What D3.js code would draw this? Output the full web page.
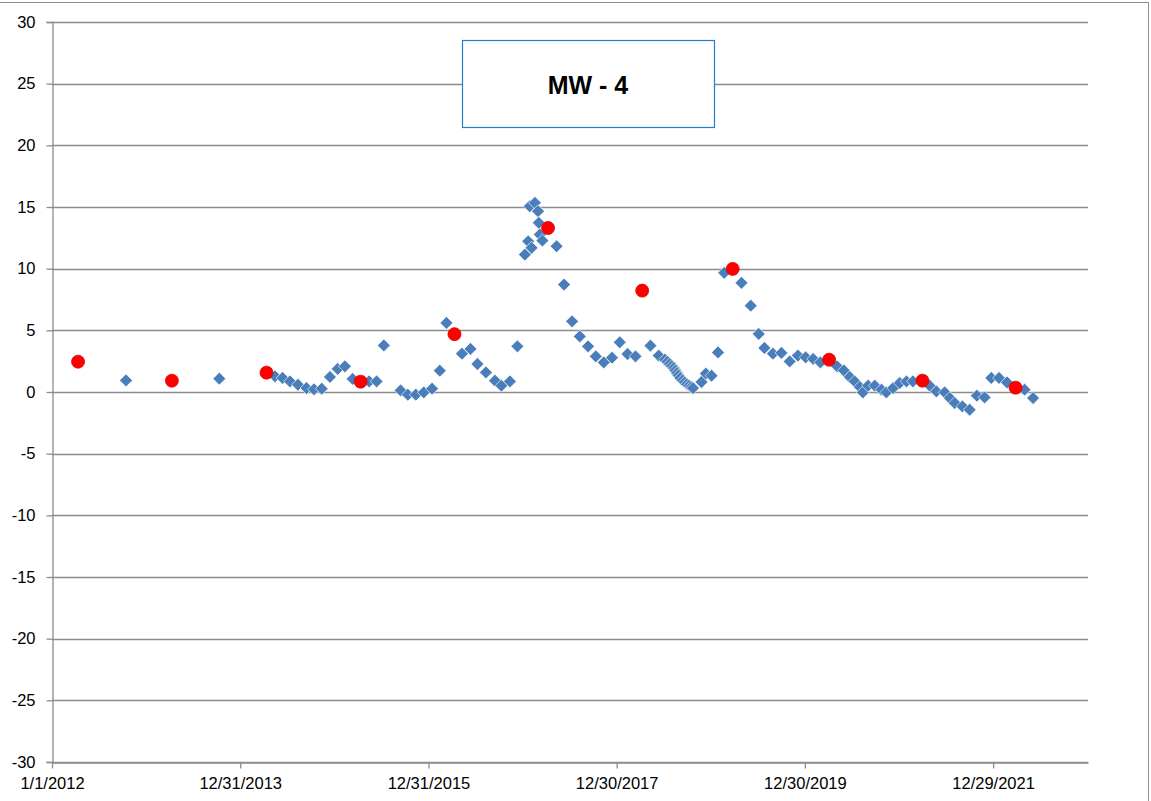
<!DOCTYPE html>
<html>
<head>
<meta charset="utf-8">
<script src="https://cdn.jsdelivr.net/npm/d3@7"></script>
<style>
  body { margin: 0; background: #fff; }
  svg { display: block; }
  .tick text { font-family: "Liberation Sans", Arial, sans-serif; font-size: 16.5px; fill: #000; }
</style>
</head>
<body>
<script>
// blue diamonds (monthly readings)
const blueDates = [
  "2012-10-14", "2013-10-11", "2014-05-15", "2014-06-13", "2014-07-12", "2014-08-12",
  "2014-09-14", "2014-10-13", "2014-11-12", "2014-12-14", "2015-01-13", "2015-02-10",
  "2015-03-12", "2015-05-15", "2015-06-13", "2015-07-11", "2015-09-14", "2015-10-12",
  "2015-11-12", "2015-12-13", "2016-01-14", "2016-02-13", "2016-03-10", "2016-05-09",
  "2016-06-11", "2016-07-08", "2016-08-10", "2016-09-14", "2016-10-09", "2016-11-11",
  "2016-12-10", "2017-01-08", "2017-01-21", "2017-02-03", "2017-01-27", "2017-02-16",
  "2017-02-28", "2017-03-03", "2017-03-07", "2017-03-17", "2017-05-11", "2017-06-09",
  "2017-07-10", "2017-08-09", "2017-09-10", "2017-10-10", "2017-11-10", "2017-12-12",
  "2018-01-11", "2018-02-10", "2018-03-13", "2018-05-10", "2018-06-11", "2018-07-05",
  "2018-07-15", "2018-07-24", "2018-08-01", "2018-08-09", "2018-08-15", "2018-08-21",
  "2018-08-27", "2018-09-03", "2018-09-12", "2018-09-20", "2018-09-28", "2018-10-07",
  "2018-10-15", "2018-10-22", "2018-11-24", "2018-12-11", "2019-01-02", "2019-01-27",
  "2019-02-20", "2019-04-28", "2019-06-03", "2019-07-04", "2019-07-26", "2019-08-28",
  "2019-09-30", "2019-11-01", "2019-12-03", "2020-01-02", "2020-01-31", "2020-02-28",
  "2020-05-03", "2020-05-29", "2020-06-21", "2020-07-10", "2020-07-30", "2020-08-11",
  "2020-08-31", "2020-09-26", "2020-10-22", "2020-11-10", "2020-12-06", "2021-01-01",
  "2021-01-27", "2021-02-21", "2021-04-27", "2021-05-23", "2021-06-24", "2021-07-14",
  "2021-08-02", "2021-09-01", "2021-09-29", "2021-10-27", "2021-11-26", "2021-12-22",
  "2022-01-21", "2022-02-21", "2022-04-30", "2022-06-02"
];
const blueValues = [
  0.94, 1.08, 1.27, 1.14, 0.86, 0.59,
  0.32, 0.22, 0.27, 1.22, 1.87, 2.08,
  1.06, 0.86, 0.86, 3.78, 0.13, -0.22,
  -0.22, -0.03, 0.27, 1.73, 5.6, 3.11,
  3.49, 2.27, 1.59, 0.92, 0.51, 0.86,
  3.7, 11.14, 12.22, 11.69, 15.06, 15.34,
  14.66, 13.72, 12.77, 12.28, 11.82, 8.71,
  5.73, 4.51, 3.7, 2.89, 2.4, 2.78,
  4.03, 3.08, 2.89, 3.76, 2.95, 2.62,
  2.45, 2.27, 2.1, 1.95, 1.75, 1.54,
  1.35, 1.14, 0.95, 0.78, 0.62, 0.51,
  0.4, 0.32, 0.81, 1.49, 1.32, 3.21,
  9.66, 8.85, 7.0, 4.71, 3.57, 3.11,
  3.17, 2.48, 2.95, 2.81, 2.68, 2.4,
  2.08, 1.75, 1.22, 0.86, 0.41, -0.03,
  0.51, 0.51, 0.19, -0.03, 0.32, 0.73,
  0.86, 0.86, 0.51, 0.05, -0.03, -0.49,
  -0.89, -1.17, -1.44, -0.3, -0.44, 1.14,
  1.14, 0.78, 0.19, -0.49
];

// red circles (annual readings)
const redDates = [
  "2012-04-11", "2013-04-10", "2014-04-12", "2015-04-12", "2016-04-10", "2017-04-08",
  "2018-04-08", "2019-03-25", "2020-04-02", "2021-03-30", "2022-03-26"
];
const redValues = [2.46, 0.92, 1.57, 0.84, 4.69, 13.3, 8.22, 9.98, 2.62, 0.92, 0.35];

const yTicks = [-30, -25, -20, -15, -10, -5, 0, 5, 10, 15, 20, 25, 30];
const xTickDates = ["2012-01-01", "2013-12-31", "2015-12-31", "2017-12-30", "2019-12-30", "2021-12-29"];
const xDomain = ["2012-01-01", "2023-01-01"];
const title = "MW - 4";

const W = 1151, H = 801;
const plot = { left: 52, right: 1088, top: 22, bottom: 762 };

const parse = d3.utcParse("%Y-%m-%d");
const fmt = d3.utcFormat("%-m/%-d/%Y");

const x = d3.scaleUtc()
  .domain(xDomain.map(parse))
  .range([plot.left, plot.right]);

const y = d3.scaleLinear()
  .domain([-30, 30])
  .range([plot.bottom, plot.top]);

const svg = d3.select("body").append("svg")
  .attr("width", W)
  .attr("height", H);

// chart area border
svg.append("rect")
  .attr("x", -2).attr("y", 2.5)
  .attr("width", 1150.5).attr("height", H + 5)
  .attr("fill", "#fff")
  .attr("stroke", "#8e8e8e")
  .attr("stroke-width", 1);

// horizontal gridlines
svg.append("g")
  .selectAll("line")
  .data(yTicks)
  .join("line")
  .attr("x1", plot.left).attr("x2", plot.right)
  .attr("y1", d => Math.round(y(d)) + 0.5)
  .attr("y2", d => Math.round(y(d)) + 0.5)
  .attr("stroke", "#8c8c8c")
  .attr("stroke-width", 1.3);

// y axis (plain hyphen for negatives, like the original)
const yAxis = svg.append("g")
  .attr("transform", `translate(${plot.left + 0.5},0)`)
  .call(d3.axisLeft(y).tickValues(yTicks).tickFormat(d => String(d)).tickSize(6).tickPadding(11));
yAxis.select(".domain").attr("stroke", "#8c8c8c").attr("stroke-width", 1.3);
yAxis.selectAll(".tick line").attr("stroke", "#8c8c8c").attr("stroke-width", 1.3);

// x axis
const xAxis = svg.append("g")
  .attr("transform", `translate(0,${Math.round(plot.bottom) + 0.5})`)
  .call(d3.axisBottom(x)
    .tickValues(xTickDates.map(parse))
    .tickFormat(fmt)
    .tickSize(6)
    .tickSizeOuter(0)
    .tickPadding(9));
xAxis.select(".domain").attr("stroke", "#8c8c8c").attr("stroke-width", 1.3);
xAxis.selectAll(".tick line").attr("stroke", "#8c8c8c").attr("stroke-width", 1.3);

// title box
const box = svg.append("g");
box.append("rect")
  .attr("x", 462.5).attr("y", 40.5)
  .attr("width", 252).attr("height", 87)
  .attr("fill", "#fff")
  .attr("stroke", "#1f7fd0")
  .attr("stroke-width", 1.2);
box.append("text")
  .attr("x", 588).attr("y", 85)
  .attr("text-anchor", "middle")
  .attr("dominant-baseline", "central")
  .style("font-family", "'Liberation Sans', Arial, sans-serif")
  .style("font-weight", "bold")
  .style("font-size", "25px")
  .text(title);

// blue diamonds
const diamond = d3.symbol().type(d3.symbolSquare).size(82);
svg.append("g")
  .selectAll("path")
  .data(blueDates.map((d, i) => ({ date: parse(d), value: blueValues[i] })))
  .join("path")
  .attr("d", diamond)
  .attr("transform", d => `translate(${x(d.date)},${y(d.value)}) rotate(45)`)
  .attr("fill", "#4a7ebb")
  .attr("stroke", "#ffffff")
  .attr("stroke-width", 0.6);

// red circles
svg.append("g")
  .selectAll("circle")
  .data(redDates.map((d, i) => ({ date: parse(d), value: redValues[i] })))
  .join("circle")
  .attr("cx", d => x(d.date))
  .attr("cy", d => y(d.value))
  .attr("r", 6.5)
  .attr("fill", "#ff0000")
  .attr("stroke", "#e00000")
  .attr("stroke-width", 0.8);
</script>
</body>
</html>
